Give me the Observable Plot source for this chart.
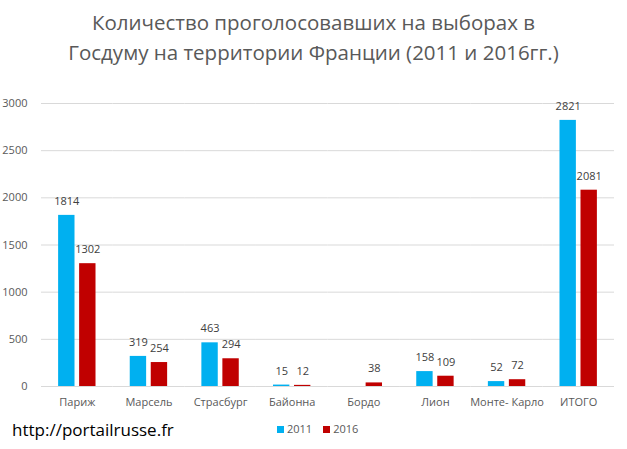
<!DOCTYPE html>
<html>
<head>
<meta charset="utf-8">
<script src="https://cdn.jsdelivr.net/npm/d3@7"></script>
<script src="https://cdn.jsdelivr.net/npm/@observablehq/plot@0.6"></script>
<style>
  body { margin: 0; background: #fff; }
  #wrap { position: relative; width: 627px; height: 449px; overflow: hidden; font-family: "Open Sans", sans-serif; }
  #title { position: absolute; left: 0; top: 7px; width: 627px; text-align: center; font-size: 20.5px; line-height: 30px; color: #595959; }
  #url { position: absolute; left: 12px; top: 418px; font-size: 17px; color: #000; }
  #legend { position: absolute; left: 277px; top: 421px; font-size: 11px; color: #595959; display: flex; align-items: center; gap: 11px; }
  #legend span.sw { display: inline-block; width: 7px; height: 7px; margin-right: 3px; }
  svg { position: absolute; left: 0; top: 0; }
</style>
</head>
<body>
<div id="wrap">
  <div id="chart"></div>
  <div id="title">Количество проголосовавших на выборах в<br>Госдуму на территории Франции (2011 и 2016гг.)</div>
  <div id="url">http://portailrusse.fr</div>
  <div id="legend"></div>
</div>
<script>
const cities = ["Париж", "Марсель", "Страсбург", "Байонна", "Бордо", "Лион", "Монте- Карло", "ИТОГО"];
const years = ["2011", "2016"];
const v2011 = [1814, 319, 463, 15, null, 158, 52, 2821];
const v2016 = [1302, 254, 294, 12, 38, 109, 72, 2081];
const colors = ["#00B0F0", "#C00000"];
const yTicks = [0, 500, 1000, 1500, 2000, 2500, 3000];

const data = [];
cities.forEach((c, i) => {
  if (v2011[i] != null) data.push({city: c, year: years[0], value: v2011[i]});
  if (v2016[i] != null) data.push({city: c, year: years[1], value: v2016[i]});
});

const chart = Plot.plot({
  width: 627,
  height: 449,
  marginTop: 103,
  marginBottom: 63,
  marginLeft: 41,
  marginRight: 13,
  style: {fontFamily: "Open Sans, sans-serif", fontSize: "11px", color: "#595959", background: "transparent"},
  fx: {domain: cities, paddingInner: 0, paddingOuter: 0, round: false, label: null},
  x: {domain: years, paddingInner: 0.22, paddingOuter: 0.815, round: false, axis: null},
  y: {domain: [0, 3000], ticks: yTicks, label: null},
  color: {domain: years, range: colors},
  marks: [
    Plot.gridY(yTicks, {stroke: "#d9d9d9", strokeOpacity: 1}),
    Plot.axisY(yTicks, {tickSize: 0, tickPadding: 14, tickFormat: d => String(d), fill: "#595959", label: null}),
    Plot.axisFx({anchor: "bottom", tickSize: 0, tickPadding: 12, fill: "#595959", label: null}),
    Plot.barY(data, {fx: "city", x: "year", y: "value", fill: "year"}),
    Plot.text(data, {fx: "city", x: "year", y: "value", text: d => String(d.value), dy: -14, fill: "#404040", fontSize: 11})
  ]
});
document.getElementById("chart").appendChild(chart);

const leg = document.getElementById("legend");
years.forEach((y, i) => {
  const item = document.createElement("div");
  item.innerHTML = `<span class="sw" style="background:${colors[i]}"></span>${y}`;
  leg.appendChild(item);
});
</script>
</body>
</html>
